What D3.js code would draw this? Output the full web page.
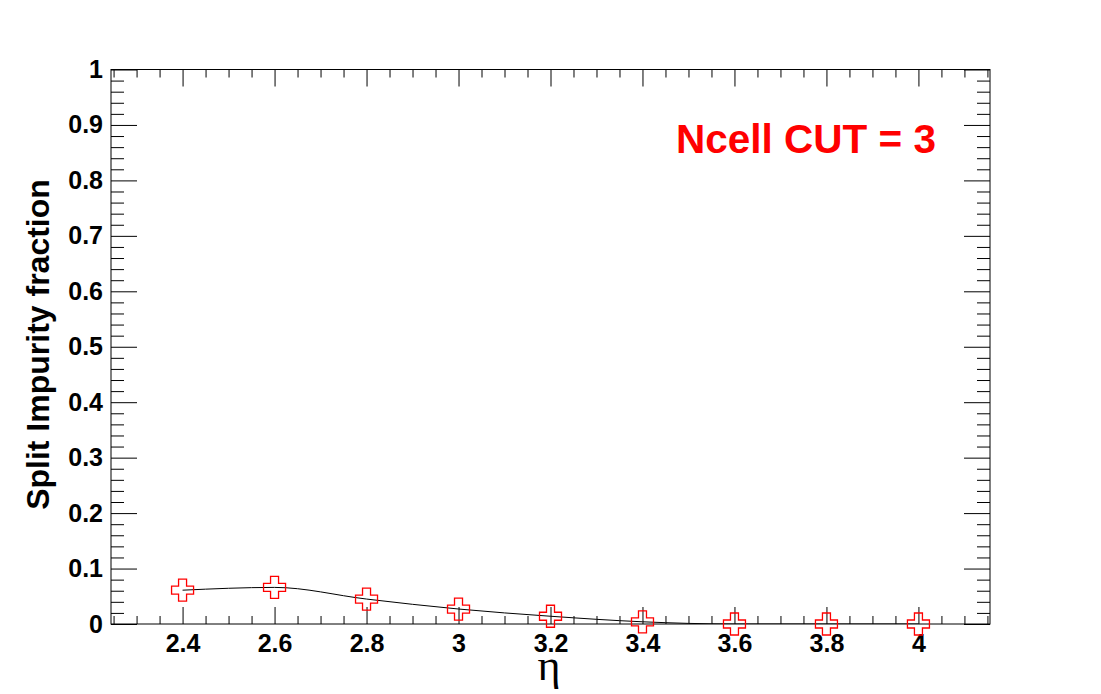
<!DOCTYPE html>
<html>
<head>
<meta charset="utf-8">
<script src="https://cdn.jsdelivr.net/npm/d3@7"></script>
<style>
  html, body { margin: 0; padding: 0; background: #fff; }
  svg { display: block; }
  text { font-family: "Liberation Sans", Arial, Helvetica, sans-serif; }
</style>
</head>
<body>
<svg id="chart" width="1101" height="694"></svg>
<script>
// ---- data ----
const eta = [2.4, 2.6, 2.8, 3.0, 3.2, 3.4, 3.6, 3.8, 4.0];
const impurity = [0.061, 0.066, 0.045, 0.027, 0.014, 0.004, 0.0, 0.0, 0.0];
const xMajorTicks = [2.4, 2.6, 2.8, 3.0, 3.2, 3.4, 3.6, 3.8, 4.0];
const yMajorTicks = [0, 0.1, 0.2, 0.3, 0.4, 0.5, 0.6, 0.7, 0.8, 0.9, 1];
const xTitle = "η";
const yTitle = "Split Impurity fraction";
const labelText = "Ncell CUT = 3";

// ---- layout ----
const W = 1101, H = 694;
const L = 111, R = 990, T = 69.5, B = 624;
const svg = d3.select("#chart");

const x = d3.scaleLinear().domain([2.2444, 4.1556]).range([L, R]);
const y = d3.scaleLinear().domain([0, 1]).range([B, T]);

const xMinor = d3.range(2.25, 4.16, 0.05).map(v => +v.toFixed(2)).filter(v => !xMajorTicks.some(m => Math.abs(m - v) < 1e-6));
const yMinor = d3.range(0, 1.001, 0.02).map(v => +v.toFixed(2)).filter(v => !yMajorTicks.some(m => Math.abs(m - v) < 1e-6));

const fmt = d => (Math.abs(d - Math.round(d)) < 1e-9 ? String(Math.round(d)) : d3.format(".1f")(d));

function styleAxis(g) {
  g.select(".domain").remove();
  g.selectAll("line").attr("stroke", "#000").attr("stroke-width", 1);
  g.selectAll("text").attr("font-size", 25).attr("font-weight", "bold").attr("fill", "#000")
    .style("font-family", '"Liberation Sans", Arial, sans-serif');
}

// bottom
svg.append("g").attr("transform", `translate(0,${B})`)
  .call(d3.axisBottom(x).tickValues(xMajorTicks).tickSize(-17).tickPadding(10).tickFormat(fmt)).call(styleAxis);
svg.append("g").attr("transform", `translate(0,${B})`)
  .call(d3.axisBottom(x).tickValues(xMinor).tickSize(-8).tickFormat("")).call(styleAxis);
// top
svg.append("g").attr("transform", `translate(0,${T})`)
  .call(d3.axisTop(x).tickValues(xMajorTicks).tickSize(-17).tickFormat("")).call(styleAxis);
svg.append("g").attr("transform", `translate(0,${T})`)
  .call(d3.axisTop(x).tickValues(xMinor).tickSize(-8).tickFormat("")).call(styleAxis);
// left
svg.append("g").attr("transform", `translate(${L},0)`)
  .call(d3.axisLeft(y).tickValues(yMajorTicks).tickSize(-26).tickPadding(8).tickFormat(fmt)).call(styleAxis);
svg.append("g").attr("transform", `translate(${L},0)`)
  .call(d3.axisLeft(y).tickValues(yMinor).tickSize(-13).tickFormat("")).call(styleAxis);
// right
svg.append("g").attr("transform", `translate(${R},0)`)
  .call(d3.axisRight(y).tickValues(yMajorTicks).tickSize(-26).tickFormat("")).call(styleAxis);
svg.append("g").attr("transform", `translate(${R},0)`)
  .call(d3.axisRight(y).tickValues(yMinor).tickSize(-13).tickFormat("")).call(styleAxis);

// frame
svg.append("rect").attr("x", L).attr("y", T).attr("width", R - L).attr("height", B - T)
  .attr("fill", "none").attr("stroke", "#000").attr("stroke-width", 1);

// clip
svg.append("clipPath").attr("id", "plotclip").append("rect")
  .attr("x", L).attr("y", T).attr("width", R - L).attr("height", B - T);

// curve
const pts = eta.map((e, i) => [e, impurity[i]]);
const line = d3.line().x(d => x(d[0])).y(d => y(d[1])).curve(d3.curveMonotoneX);
svg.append("path").attr("d", line(pts)).attr("clip-path", "url(#plotclip)")
  .attr("fill", "none").attr("stroke", "#000").attr("stroke-width", 1);

// open cross markers
const a = 11, b = 4;
const crossPath = `M${-b},${-a}H${b}V${-b}H${a}V${b}H${b}V${a}H${-b}V${b}H${-a}V${-b}H${-b}Z`;
svg.append("g").selectAll("path").data(pts).join("path")
  .attr("transform", d => `translate(${x(d[0])},${y(d[1])})`)
  .attr("d", crossPath).attr("fill", "none").attr("stroke", "#ff0000").attr("stroke-width", 1.3);

// titles
svg.append("text").attr("x", 549).attr("y", 680).attr("text-anchor", "middle")
  .attr("font-size", 44).style("font-family", '"Liberation Serif", "DejaVu Serif", serif')
  .text(xTitle);
svg.append("text").attr("transform", `translate(49,344.5) rotate(-90)`).attr("text-anchor", "middle")
  .attr("font-size", 32).attr("font-weight", "bold").attr("fill", "#000").text(yTitle);

// annotation
svg.append("text").attr("x", 676).attr("y", 153).attr("font-size", 40.5).attr("font-weight", "bold")
  .attr("fill", "#ff0000").text(labelText);
</script>
</body>
</html>
